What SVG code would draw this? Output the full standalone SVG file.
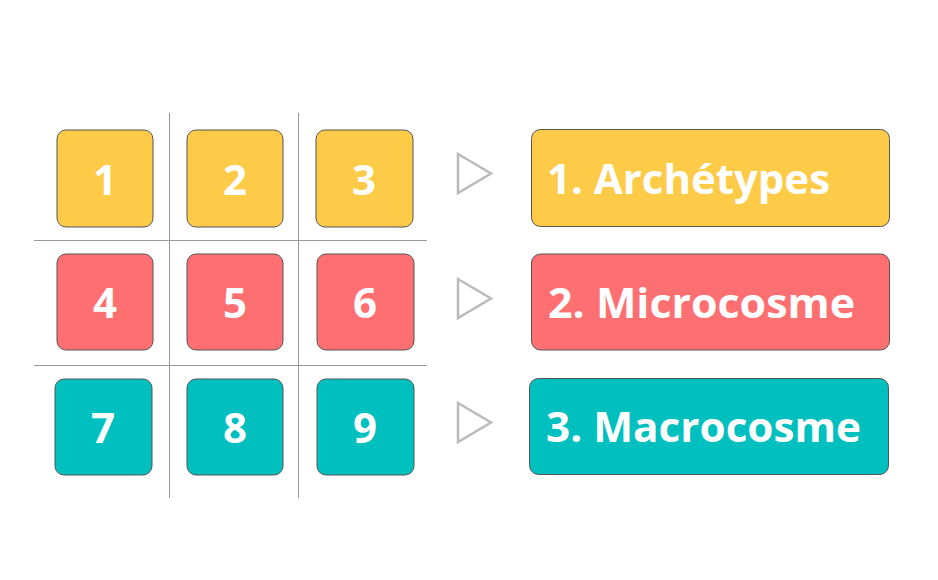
<svg xmlns="http://www.w3.org/2000/svg" width="938" height="580" viewBox="0 0 938 580">
<style>
.box{stroke:#555;stroke-width:1}
.y{fill:#FECB48}.r{fill:#FE6F71}.t{fill:#00BFBF}
.num{font-family:"Open Sans","Liberation Sans",sans-serif;font-weight:700;font-size:42px;fill:#fff;text-anchor:middle}
.lbl{font-family:"Open Sans","Liberation Sans",sans-serif;font-weight:700;font-size:41px;fill:#fff}
.grid{stroke:#999;stroke-width:1;fill:none}
.tri{fill:none;stroke:#bbb;stroke-width:2.5}
</style>
<rect width="938" height="580" fill="#fff"/>
<g id="grid" class="grid">
<line x1="169.5" y1="113" x2="169.5" y2="498"/>
<line x1="298.5" y1="113" x2="298.5" y2="498"/>
<line x1="34" y1="240.5" x2="427" y2="240.5"/>
<line x1="34" y1="365.5" x2="427" y2="365.5"/>
</g>
<g id="n1"><rect class="box y" x="57" y="130" width="96" height="97" rx="9"/><text class="num" x="105" y="195">1</text></g>
<g id="n2"><rect class="box y" x="187" y="130" width="96" height="97" rx="9"/><text class="num" x="235" y="195">2</text></g>
<g id="n3"><rect class="box y" x="316" y="130" width="97" height="97" rx="9"/><text class="num" x="364" y="195">3</text></g>
<g id="n4"><rect class="box r" x="57" y="254" width="96" height="96" rx="9"/><text class="num" x="105" y="318">4</text></g>
<g id="n5"><rect class="box r" x="187" y="254" width="96" height="96" rx="9"/><text class="num" x="235" y="318">5</text></g>
<g id="n6"><rect class="box r" x="317" y="254" width="97" height="96" rx="9"/><text class="num" x="365" y="318">6</text></g>
<g id="n7"><rect class="box t" x="55" y="379" width="97" height="96" rx="9"/><text class="num" x="103" y="443">7</text></g>
<g id="n8"><rect class="box t" x="187" y="379" width="96" height="96" rx="9"/><text class="num" x="235" y="443">8</text></g>
<g id="n9"><rect class="box t" x="317" y="379" width="97" height="96" rx="9"/><text class="num" x="365" y="443">9</text></g>
<g id="connectors" class="tri">
<polygon points="458,154 491,173.5 458,193"/>
<polygon points="458,279 491,298.5 458,318"/>
<polygon points="458,403 491,422.5 458,442"/>
</g>
<g id="l1"><rect class="box y" x="531.5" y="129.5" width="358" height="97" rx="9"/><text class="lbl" x="547" y="194" textLength="283" lengthAdjust="spacingAndGlyphs">1. Archétypes</text></g>
<g id="l2"><rect class="box r" x="531.5" y="254" width="358" height="96" rx="9"/><text class="lbl" x="548" y="318" textLength="307" lengthAdjust="spacingAndGlyphs">2. Microcosme</text></g>
<g id="l3"><rect class="box t" x="529.5" y="378.5" width="359" height="96" rx="9"/><text class="lbl" x="546" y="442" textLength="315" lengthAdjust="spacingAndGlyphs">3. Macrocosme</text></g>
</svg>
